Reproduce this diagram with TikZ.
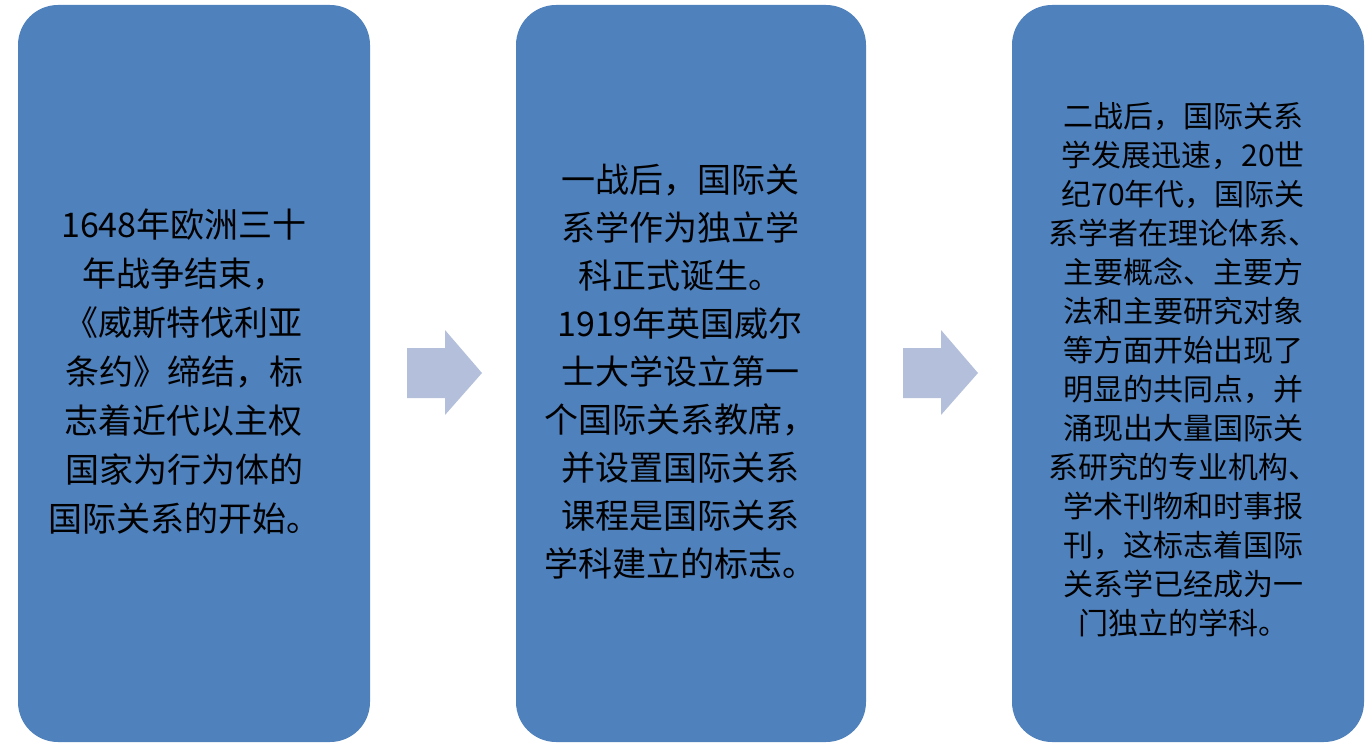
\documentclass[tikz,border=0pt]{standalone}
\usepackage{fontspec}
\setmainfont{Noto Sans CJK SC}
\begin{document}
\begin{tikzpicture}[x=1pt,y=-1pt,
 box/.style={fill=boxblue,rounded corners=40pt,draw=none},
 txt/.style={align=center,text=black,inner sep=0pt},
 arr/.style={fill=arrowc,draw=none}]
\definecolor{boxblue}{HTML}{4F81BD}
\definecolor{arrowc}{HTML}{B4C0DB}
\useasboundingbox (0,0) rectangle (1371,746);
\fill[box] (18,5) rectangle (370,742);
\fill[box] (516,5) rectangle (866,742);
\fill[box] (1012,5) rectangle (1364,742);
\fill[arr] (407,348) -- (445,348) -- (445,330) -- (482,373) -- (445,415) -- (445,398) -- (407,398) -- cycle;
\fill[arr] (903,348) -- (941,348) -- (941,330) -- (978,373) -- (941,415) -- (941,398) -- (903,398) -- cycle;
\node[txt,font=\fontsize{34}{49}\selectfont] (t1) at (184,372) {1648年欧洲三十\\年战争结束，\\《威斯特伐利亚\\条约》缔结，标\\志着近代以主权\\国家为行为体的\\国际关系的开始。};
\node[txt,font=\fontsize{34}{48}\selectfont] (t2) at (680,372) {一战后，国际关\\系学作为独立学\\科正式诞生。\\1919年英国威尔\\士大学设立第一\\个国际关系教席，\\并设置国际关系\\课程是国际关系\\学科建立的标志。};
\node[txt,font=\fontsize{30}{39}\selectfont] (t3) at (1183,370) {二战后，国际关系\\学发展迅速，20世\\纪70年代，国际关\\系学者在理论体系、\\主要概念、主要方\\法和主要研究对象\\等方面开始出现了\\明显的共同点，并\\涌现出大量国际关\\系研究的专业机构、\\学术刊物和时事报\\刊，这标志着国际\\关系学已经成为一\\门独立的学科。};
\end{tikzpicture}
\end{document}
